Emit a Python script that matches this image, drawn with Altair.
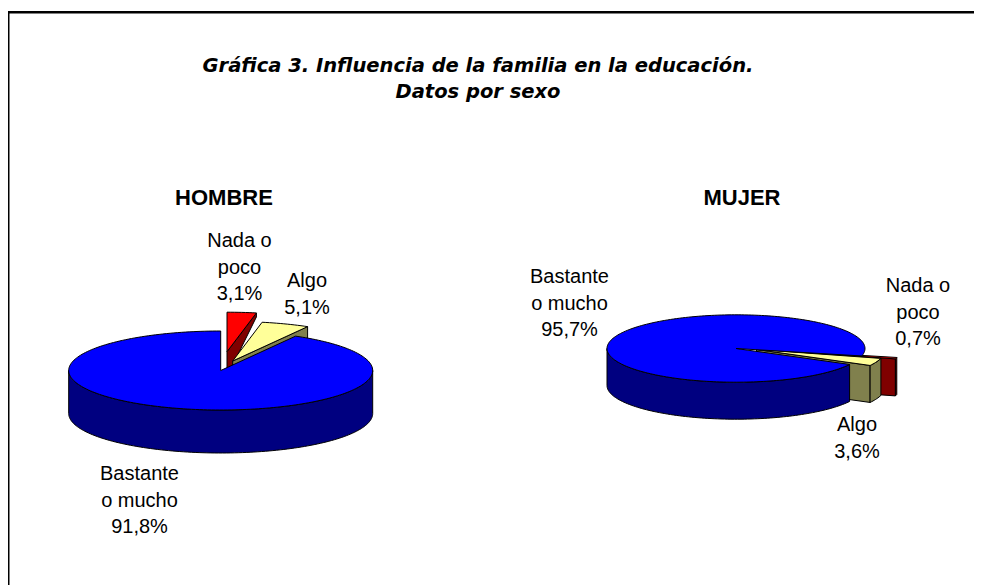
import math
import altair as alt

PANELS = ["HOMBRE", "MUJER"]
SERIES = ["Nada o poco", "Algo", "Bastante o mucho"]
HOMBRE = [3.1, 5.1, 91.8]
MUJER = [0.7, 3.6, 95.7]
TOP_COLORS = ["#FF0000", "#FFFF99", "#0000FF"]
SIDE_COLORS = ["#800000", "#80804D", "#000080"]
LABEL_LINES = {
    "Nada o poco": ["Nada o", "poco"],
    "Algo": ["Algo"],
    "Bastante o mucho": ["Bastante", "o mucho"],
}
TITLE_LINES = ["Gráfica 3. Influencia de la familia en la educación.", "Datos por sexo"]

W, H = 966, 577
OX, OY = 8, 8  # page margin: reference pixel = chart pixel + margin


def pt(g, ang, ox=0.0, oy=0.0, drop=0.0):
    r = math.radians(ang)
    return [g["cx"] + ox + g["rx"] * math.sin(r) - OX,
            g["cy"] + oy - g["ry"] * math.cos(r) + drop - OY]


def arc(g, a1, a2, ox=0.0, oy=0.0, drop=0.0):
    n = max(2, int(abs(a2 - a1) / 1.5) + 2)
    return [pt(g, a1 + (a2 - a1) * i / (n - 1), ox, oy, drop) for i in range(n)]


def centre(g, ox=0.0, oy=0.0, drop=0.0):
    return [g["cx"] + ox - OX, g["cy"] + oy + drop - OY]


def feat(coords, color, order):
    ring = coords + [coords[0]]
    return {"type": "Feature", "geometry": {"type": "Polygon", "coordinates": [ring]},
            "properties": {"color": color, "order": order}}


def pie(g, values, start, shifts, face_drop):
    feats = []
    a = start
    angles = []
    for v in values:
        angles.append((a, a + v * 3.6))
        a += v * 3.6
    for i in (0, 1):
        a1, a2 = angles[i]
        ox, oy = shifts[i]
        rim_drop, apex_drop = face_drop[i]
        feats.append(feat([centre(g, ox, oy), pt(g, a2, ox, oy), pt(g, a2, ox, oy, rim_drop), centre(g, ox, oy, apex_drop)], SIDE_COLORS[i], len(feats)))
        lo, hi = max(a1, 90), min(a2, 270)
        if hi > lo:
            feats.append(feat(arc(g, lo, hi, ox, oy) + arc(g, hi, lo, ox, oy, g["depth"]), SIDE_COLORS[i], len(feats)))
        feats.append(feat([centre(g, ox, oy)] + arc(g, a1, a2, ox, oy), TOP_COLORS[i], len(feats)))
    a1, a2 = angles[2]
    lo, hi = max(a1, 90), min(a2, 270)
    feats.append(feat(arc(g, lo, hi) + arc(g, hi, lo, 0, 0, g["depth"]), SIDE_COLORS[2], len(feats)))
    feats.append(feat([centre(g)] + arc(g, a1, a2), TOP_COLORS[2], len(feats)))
    return feats


G1 = dict(cx=220.7, cy=370.5, rx=152.0, ry=39.5, depth=43.0)
G2 = dict(cx=736.0, cy=348.5, rx=129.0, ry=33.7, depth=37.0)

features = []
features += pie(G1, HOMBRE, 0.0, [(6.3, -18.8), (12.0, -9.5)], [(4, 25), (43, 43)])
features += pie(G2, MUJER, 102.8, [(35.0, 1.5), (20.5, 1.0)], [(37, 37), (37, 37)])

shapes = alt.Chart(alt.Data(values=features)).mark_geoshape(stroke="black", strokeWidth=1, strokeJoin="round").encode(
    fill=alt.Fill("properties.color:N", scale=None)
)

border = [
    feat([[0, 0], [W, 0], [W, H], [0, H]], "transparent", 0),
    feat([[0, 3], [W, 3], [W, 5.5], [0, 5.5]], "#000000", 0),
    feat([[0, 3], [1.5, 3], [1.5, H], [0, H]], "#000000", 0),
]
border_layer = alt.Chart(alt.Data(values=border)).mark_geoshape(stroke=None, strokeWidth=0).encode(
    fill=alt.Fill("properties.color:N", scale=None)
)


def label_rows():
    rows = []
    places = [
        (HOMBRE, {"Nada o poco": (239.5, 241), "Algo": (307, 281), "Bastante o mucho": (139.5, 474)}),
        (MUJER, {"Nada o poco": (918, 286), "Algo": (857, 425), "Bastante o mucho": (569.5, 277)}),
    ]
    for vals, pos in places:
        for name, v in zip(SERIES, vals):
            x, y = pos[name]
            lines = LABEL_LINES[name] + [f"{v:.1f}%".replace(".", ",")]
            for k, t in enumerate(lines):
                rows.append({"lon": x - OX, "lat": y + k * 26.5 - OY, "t": t})
    return rows


labels = alt.Chart(alt.Data(values=label_rows())).mark_text(
    font="Liberation Sans", fontSize=20, color="black", align="center", baseline="middle"
).encode(longitude="lon:Q", latitude="lat:Q", text="t:N")

titles = alt.Chart(alt.Data(values=[
    {"lon": 478 - OX, "lat": 66 - OY, "t": TITLE_LINES[0]},
    {"lon": 478 - OX, "lat": 92 - OY, "t": TITLE_LINES[1]},
])).mark_text(
    font="DejaVu Sans", fontSize=19.5, fontStyle="italic", fontWeight="bold", color="black", align="center", baseline="middle"
).encode(longitude="lon:Q", latitude="lat:Q", text="t:N")

heads = alt.Chart(alt.Data(values=[
    {"lon": 224 - OX, "lat": 198 - OY, "t": PANELS[0]},
    {"lon": 742 - OX, "lat": 198 - OY, "t": PANELS[1]},
])).mark_text(
    font="Liberation Sans", fontSize=22, fontWeight="bold", color="black", align="center", baseline="middle"
).encode(longitude="lon:Q", latitude="lat:Q", text="t:N")

chart = alt.layer(border_layer, shapes, labels, titles, heads).project(
    type="identity", scale=1, translate=[0, 0]
).properties(width=W, height=H, padding=0, background="white").configure_view(stroke=None)

chart.save("out.html", embed_options={"renderer": "svg", "actions": False})
